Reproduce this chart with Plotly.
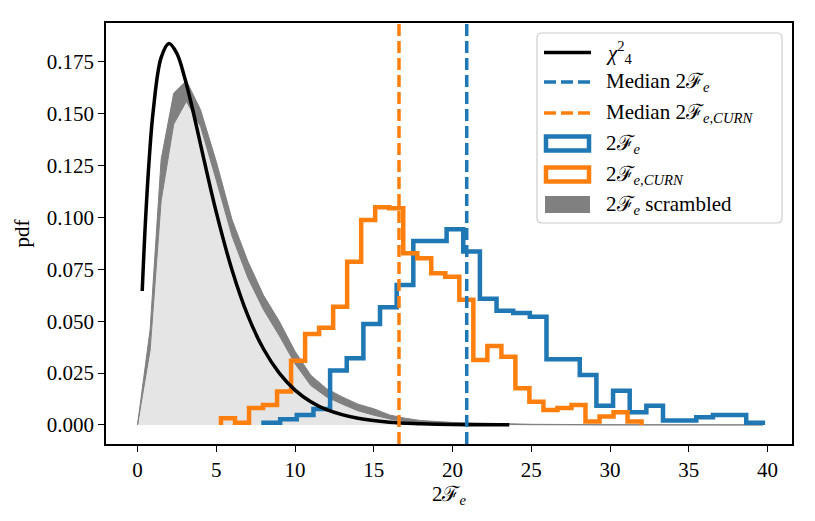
import numpy as np
import plotly.graph_objects as go

# histogram of 2F_e (30 bins between lo and hi), pdf values
fe_lo, fe_hi = 8.0, 39.7
fe_pdf = [0.0011, 0.0027, 0.0048, 0.0077, 0.0262, 0.0322, 0.0487, 0.0567, 0.0675, 0.0887,
          0.0887, 0.0944, 0.0836, 0.0608, 0.0551, 0.0540, 0.0522, 0.0317, 0.0317, 0.0241,
          0.0092, 0.0165, 0.0061, 0.0092, 0.0021, 0.0021, 0.0037, 0.0048, 0.0048, 0.0011]

# histogram of 2F_e,CURN
curn_lo, curn_hi = 5.3, 32.0
curn_pdf = [0.0032, 0.0011, 0.0081, 0.0096, 0.0161, 0.0309, 0.0439, 0.0468, 0.0570, 0.0787,
            0.0988, 0.1049, 0.1045, 0.0828, 0.0804, 0.0731, 0.0714, 0.0603, 0.0313, 0.0381,
            0.0329, 0.0177, 0.0112, 0.0072, 0.0081, 0.0096, 0.0016, 0.0040, 0.0061, 0.0016]

# scrambled 2F_e band (lower / upper)
scr_x = [0.0, 0.8, 1.5, 2.3, 3.1, 4.0, 5.0, 6.0, 7.0, 8.0, 9.0, 10.0, 11.0, 12.0, 13.0,
         14.0, 15.0, 16.0, 17.0, 18.0, 20.0, 22.0, 25.0, 30.0, 35.0, 39.7]
scr_lo = [0.0, 0.036, 0.108, 0.145, 0.156, 0.144, 0.118, 0.091, 0.071, 0.0555, 0.043, 0.0295,
          0.019, 0.0135, 0.0100, 0.0068, 0.0047, 0.0029, 0.0016, 0.0009, 0.0004, 0.0002,
          0.0001, 0.0, 0.0, 0.0]
scr_hi = [0.0, 0.046, 0.128, 0.160, 0.166, 0.152, 0.127, 0.099, 0.079, 0.0625, 0.050, 0.0355,
          0.024, 0.0175, 0.0135, 0.0100, 0.0078, 0.0048, 0.0032, 0.0021, 0.0012, 0.0007,
          0.0003, 0.0001, 0.0, 0.0]

# chi^2 with 4 dof
chi_x = [0.3, 0.5, 0.75, 1.0, 1.5, 2.0, 2.5, 3.0, 3.5, 4.0, 5.0, 6.0, 7.0, 8.0, 9.0, 10.0,
         11.0, 12.0, 14.0, 16.0, 18.0, 20.0, 23.6]
chi_y = [0.0646, 0.0974, 0.1289, 0.1516, 0.1771, 0.1839, 0.1791, 0.1673, 0.1521, 0.1353,
         0.1026, 0.0747, 0.0528, 0.0366, 0.0250, 0.0168, 0.0112, 0.0074, 0.0032, 0.0013,
         0.0006, 0.0002, 0.00005]

median_fe = 20.9
median_curn = 16.6

BLUE = "#1f77b4"
ORANGE = "#ff7f0e"
FONT = "Liberation Serif"
FS = 21


def step_xy(lo, hi, vals):
    edges = np.linspace(lo, hi, len(vals) + 1)
    xs = [edges[0]] + list(edges)
    ys = [0] + list(vals) + [0]
    return xs, ys


fig = go.Figure()

# scrambled: light fill under lower curve, dark band between lower and upper
fig.add_trace(go.Scatter(x=scr_x, y=scr_lo, mode="lines", fill="tozeroy",
                         fillcolor="#e5e5e5", line=dict(color="#808080", width=1)))
fig.add_trace(go.Scatter(x=scr_x, y=scr_hi, mode="lines", fill="tonexty",
                         fillcolor="#808080", line=dict(color="#808080", width=1)))

bx, by = step_xy(fe_lo, fe_hi, fe_pdf)
fig.add_trace(go.Scatter(x=bx, y=by, mode="lines", line_shape="hv",
                         line=dict(color=BLUE, width=4.5)))
ox, oy = step_xy(curn_lo, curn_hi, curn_pdf)
fig.add_trace(go.Scatter(x=ox, y=oy, mode="lines", line_shape="hv",
                         line=dict(color=ORANGE, width=4.5)))

fig.add_trace(go.Scatter(x=chi_x, y=chi_y, mode="lines", line_shape="spline",
                         line=dict(color="black", width=3.5)))

fig.add_vline(x=median_fe, line=dict(color=BLUE, width=3.5, dash="12px,5px"))
fig.add_vline(x=median_curn, line=dict(color=ORANGE, width=3.5, dash="12px,5px"))

# plot box as seen on screen; the page body adds an 8px offset
L, T, W, H = 106, 23, 686, 421
OFF = 8


def px(x):
    return (x - L) / W


def py(y):
    return (T + H - y) / H


# hand-drawn legend (pixel positions of the screen picture -> paper coords)
x0, x1, y0, y1, r = 537, 782, 33, 223, 5
path = (f"M{px(x0 + r)},{py(y0)} L{px(x1 - r)},{py(y0)} Q{px(x1)},{py(y0)} {px(x1)},{py(y0 + r)} "
        f"L{px(x1)},{py(y1 - r)} Q{px(x1)},{py(y1)} {px(x1 - r)},{py(y1)} "
        f"L{px(x0 + r)},{py(y1)} Q{px(x0)},{py(y1)} {px(x0)},{py(y1 - r)} "
        f"L{px(x0)},{py(y0 + r)} Q{px(x0)},{py(y0)} {px(x0 + r)},{py(y0)} Z")
fig.add_shape(type="path", path=path, xref="paper", yref="paper",
              fillcolor="rgba(255,255,255,0.8)", line=dict(color="#cccccc", width=1.2))

rows = [52.5, 82, 113, 143.5, 174.5, 204.5]
hx0, hx1 = 544, 591
fig.add_shape(type="line", xref="paper", yref="paper", x0=px(hx0), x1=px(hx1),
              y0=py(rows[0]), y1=py(rows[0]), line=dict(color="black", width=3.5))
fig.add_shape(type="line", xref="paper", yref="paper", x0=px(hx0), x1=px(hx1),
              y0=py(rows[1]), y1=py(rows[1]), line=dict(color=BLUE, width=3.5, dash="12px,5px"))
fig.add_shape(type="line", xref="paper", yref="paper", x0=px(hx0), x1=px(hx1),
              y0=py(rows[2]), y1=py(rows[2]), line=dict(color=ORANGE, width=3.5, dash="12px,5px"))
for row, col in [(rows[3], BLUE), (rows[4], ORANGE)]:
    fig.add_shape(type="rect", xref="paper", yref="paper", x0=px(hx0 + 2), x1=px(hx1 - 2),
                  y0=py(row - 7), y1=py(row + 7), fillcolor="white",
                  line=dict(color=col, width=4.5))
fig.add_shape(type="rect", xref="paper", yref="paper", x0=px(hx0 + 1), x1=px(hx1 - 1),
              y0=py(rows[5] - 8.5), y1=py(rows[5] + 8.5), fillcolor="#808080", line_width=0)

labels = ["<i>χ</i><sup>2</sup><sub>4</sub>",
          "Median 2ℱ<sub><i>e</i></sub>",
          "Median 2ℱ<sub><i>e,CURN</i></sub>",
          "2ℱ<sub><i>e</i></sub>",
          "2ℱ<sub><i>e,CURN</i></sub>",
          "2ℱ<sub><i>e</i></sub> scrambled"]
for row, txt in zip(rows, labels):
    fig.add_annotation(x=px(604), y=py(row), xref="paper", yref="paper", text=txt,
                       showarrow=False, xanchor="left", yanchor="middle",
                       font=dict(family=FONT, size=FS, color="black"))

axis_common = dict(showgrid=False, zeroline=False, showline=True, linecolor="black",
                   linewidth=1.5, mirror=True, ticks="outside", ticklen=6, tickwidth=1.3,
                   tickcolor="black", tickfont=dict(family=FONT, size=FS, color="black"))
fig.update_xaxes(range=[-2.0, 41.55], tickvals=[0, 5, 10, 15, 20, 25, 30, 35, 40],
                 title=dict(text="2ℱ<sub><i>e</i></sub>", standoff=1,
                            font=dict(family=FONT, size=FS, color="black")),
                 **axis_common)
fig.update_yaxes(range=[-0.0092, 0.1938],
                 tickvals=[0, 0.025, 0.05, 0.075, 0.1, 0.125, 0.15, 0.175],
                 tickformat=".3f",
                 title=dict(text="pdf", standoff=11,
                            font=dict(family=FONT, size=FS, color="black")),
                 **axis_common)
fig.update_layout(width=815, height=521, showlegend=False,
                  margin=dict(l=L - OFF, r=815 - (L - OFF) - W, t=T - OFF,
                              b=521 - (T - OFF) - H),
                  plot_bgcolor="white", paper_bgcolor="white")

fig.write_html("out.html")
